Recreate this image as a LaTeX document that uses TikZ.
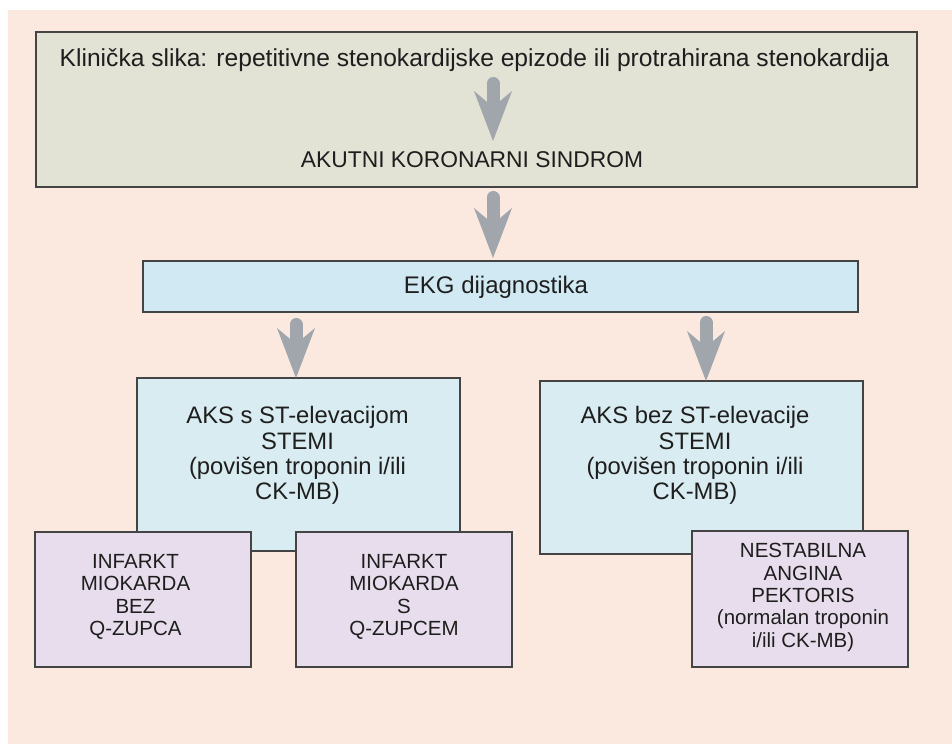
\documentclass[tikz,border=0pt]{standalone}
\usepackage{fontspec}
\setmainfont{Liberation Sans}
\usetikzlibrary{arrows.meta}
\definecolor{bgpeach}{HTML}{FBE8DF}
\definecolor{beigebox}{HTML}{E2E2D5}
\definecolor{ekgblue}{HTML}{D1E9F2}
\definecolor{aksblue}{HTML}{D9ECF1}
\definecolor{lilac}{HTML}{E8DDEC}
\definecolor{arrowgray}{HTML}{A1A5AC}
\definecolor{edgegray}{HTML}{444444}
\definecolor{txtgray}{HTML}{1E1E1E}
\tikzset{
  box/.style={draw=edgegray, line width=1.6pt, rectangle, inner sep=0pt, outer sep=0pt},
  txt/.style={text=txtgray, align=center, inner sep=0pt},
  garrow/.style={draw=arrowgray, line width=13pt, line cap=round,
    -{Stealth[length=50pt, width=38pt, inset=16pt, line width=0pt]}}
}
\begin{document}
\begin{tikzpicture}[x=1pt,y=-1pt]
\useasboundingbox (0,0) rectangle (952,744);
\fill[white] (0,0) rectangle (952,744);
\fill[bgpeach] (8,10) rectangle (952,744);

% top box
\node[box, fill=beigebox, minimum width=881pt, minimum height=155pt] (top) at (476.5,109.5) {};
\node[txt, font=\fontsize{24.6}{28}\selectfont] (clin) at (474.5,60) {Klinička slika: repetitivne stenokardijske epizode ili protrahirana stenokardija};
\node[txt, font=\fontsize{22.8}{27}\selectfont] (aks) at (472,160) {AKUTNI KORONARNI SINDROM};
\coordinate (a1s) at (493,83.5);
\coordinate (a1e) at (493,141);
\draw[garrow] (a1s) -- (a1e);

% EKG box
\node[box, fill=ekgblue, minimum width=715pt, minimum height=51pt] (ekg) at (500.5,286.5) {};
\node[txt, font=\fontsize{24}{28}\selectfont] (ekgt) at (496,287) {EKG dijagnostika};
\coordinate (a2s) at (493,197.5);
\coordinate (a2e) at (493,258);
\draw[garrow] (a2s) -- (a2e);

% AKS boxes
\node[box, fill=aksblue, minimum width=323pt, minimum height=173pt] (stemi) at (298.5,464.5) {};
\node[box, fill=aksblue, minimum width=323pt, minimum height=173pt] (nstemi) at (701.5,467.5) {};
\node[txt, font=\fontsize{23.8}{25.3}\selectfont] (stemit) at (297.5,455.5) {AKS s ST-elevacijom\\STEMI\\(povišen troponin i/ili\\CK-MB)};
\node[txt, font=\fontsize{23.8}{25.3}\selectfont] (nstemit) at (695,455.5) {AKS bez ST-elevacije\\STEMI\\(povišen troponin i/ili\\CK-MB)};
\coordinate (a3s) at (296,324.5);
\coordinate (a3e) at (296,378);
\draw[garrow] (a3s) -- (a3e);
\coordinate (a4s) at (706,322.5);
\coordinate (a4e) at (706,381);
\draw[garrow] (a4s) -- (a4e);

% lilac boxes
\node[box, fill=lilac, minimum width=216pt, minimum height=135pt] (im1) at (143,599.5) {};
\node[box, fill=lilac, minimum width=216pt, minimum height=135pt] (im2) at (404,599.5) {};
\node[box, fill=lilac, minimum width=216pt, minimum height=136pt] (nap) at (800,599) {};
\node[txt, font=\fontsize{20.5}{22.3}\selectfont] (im1t) at (135.5,597) {INFARKT\\MIOKARDA\\BEZ\\Q-ZUPCA};
\node[txt, font=\fontsize{20.5}{22.3}\selectfont] (im2t) at (404,597) {INFARKT\\MIOKARDA\\S\\Q-ZUPCEM};
\node[txt, font=\fontsize{20.5}{22.3}\selectfont] (napt) at (803,597.5) {NESTABILNA\\ANGINA\\PEKTORIS\\(normalan troponin\\i/ili CK-MB)};
\end{tikzpicture}
\end{document}
